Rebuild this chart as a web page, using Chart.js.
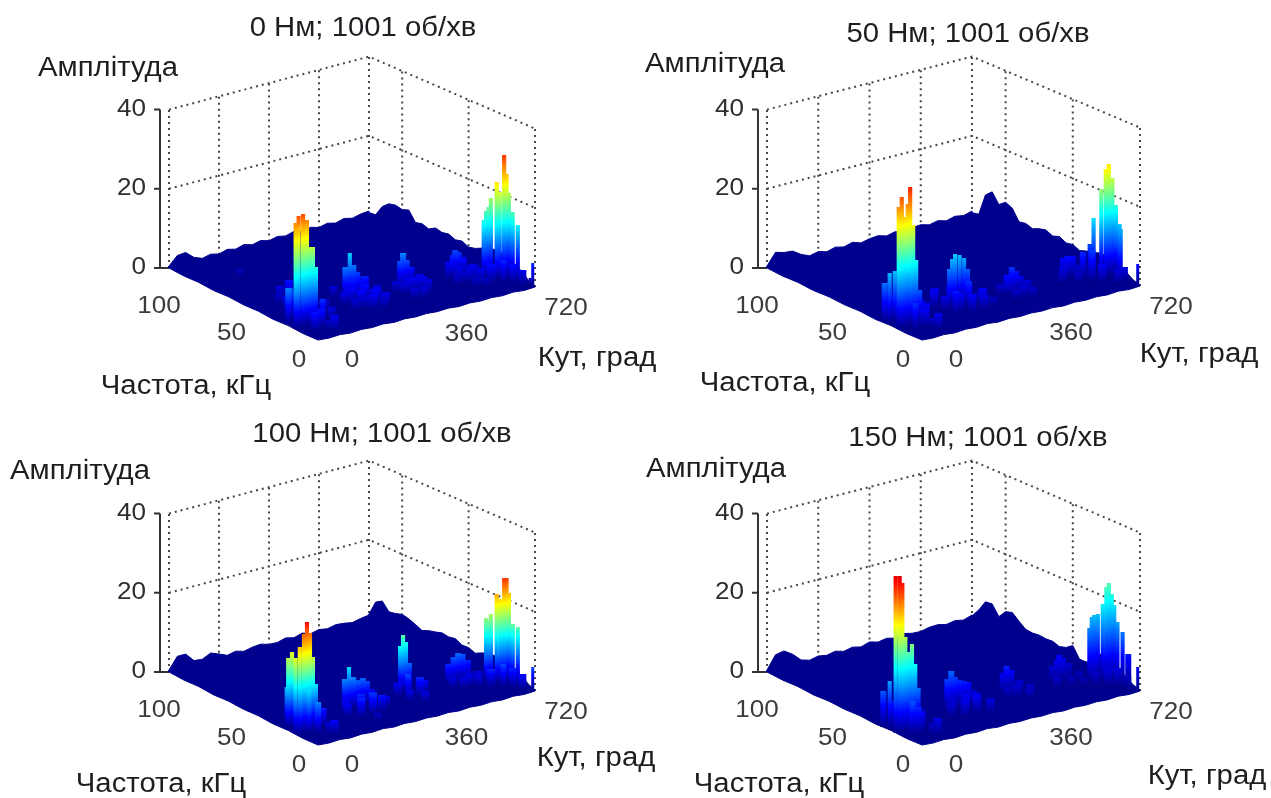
<!DOCTYPE html>
<html>
<head>
  <meta charset="utf-8">
  <script src="https://cdnjs.cloudflare.com/ajax/libs/Chart.js/4.4.1/chart.umd.min.js"></script>
  <style>
    * { margin: 0; padding: 0; }
    body { background: #fff; overflow: hidden; }
    canvas { display: block; filter: blur(0.7px); }
  </style>
</head>
<body>
  <canvas id="surfaces" width="1271" height="798"></canvas>

  <script>
    const titles = ['0 Нм; 1001 об/хв', '50 Нм; 1001 об/хв', '100 Нм; 1001 об/хв', '150 Нм; 1001 об/хв'];
    const ampName = 'Амплітуда';
    const angleName = 'Кут, град';
    const freqName = 'Частота, кГц';
    const ampTicks = [0, 20, 40];
    const freqTicks = [0, 50, 100];
    const angleTicks = [0, 360, 720];
    const gridAngles = [0, 180, 360, 540, 720];
    const gridFreqs = [0, 40, 80, 100];

    // height of the surface along its two far edges
    const edgeAngles = [0, 30, 60, 90, 120, 150, 180, 210, 240, 270, 300, 330, 360, 390, 420, 450, 480, 510, 540, 570, 600, 630, 660, 690, 720];
    const edgeFreqs = [100, 96, 92, 88, 84, 80, 76, 72, 68, 64, 60, 56, 52, 48, 44, 40, 36, 32, 28, 24, 20, 16, 12, 8, 4, 0];

    const backEdge0 = [0.5, 2.6, 2.8, 1.0, 0.2, 0.7, 0.2, 0.8, 0.3, 0.9, 0.3, 0.8, 0.2, 0.7, 0.3, 0.9, 0.3, 0.8, 0.2, 0.7, 0.2, 0.8, 0.3, 0.8, 1.0];
    const backEdge50 = [0.5, 3.4, 2.8, 2.6, 1.2, 0.3, 0.8, 0.2, 0.8, 0.3, 0.9, 0.2, 0.7, 0.9, 0.3, 0.8, 0.2, 0.7, 0.9, 0.3, 0.8, 0.2, 0.8, 0.4, 1.0];
    const backEdge100 = [0.5, 3.4, 3.4, 1.2, 1.0, 2.0, 1.2, 0.3, 0.8, 0.2, 0.7, 0.9, 0.3, 0.2, 0.8, 0.3, 0.9, 0.2, 0.7, 0.3, 0.8, 0.6, 0.2, 0.7, 1.0];
    const backEdge150 = [0.5, 3.8, 4.2, 2.8, 0.8, 0.2, 0.7, 0.3, 0.8, 0.2, 0.7, 0.2, 0.9, 0.3, 0.7, 0.2, 0.8, 0.3, 0.2, 0.7, 0.8, 0.3, 0.7, 0.3, 1.0];

    const rightEdge0 = [0.6, 0.8, 3.6, 5.0, 5.4, 5.0, 5.6, 3.2, 3.6, 3.0, 4.0, 3.6, 3.9, 3.2, 3.6, 2.8, 3.2, 4.0, 5.0, 5.0, 5.0, 4.5, 3.5, 2.5, 1.0, 0.3];
    const rightEdge50 = [0.6, 0.9, 6.5, 8.0, 5.5, 6.8, 6.0, 3.3, 3.6, 3.0, 3.7, 4.1, 3.3, 3.9, 3.0, 3.3, 2.5, 3.1, 3.5, 4.0, 4.0, 3.5, 2.5, 2.0, 0.8, 0.3];
    const rightEdge100 = [1.2, 5.0, 6.0, 4.0, 4.3, 4.8, 4.4, 3.7, 2.9, 3.6, 4.0, 4.5, 4.2, 4.5, 3.6, 3.7, 3.0, 3.8, 4.5, 4.5, 4.5, 4.0, 3.0, 2.5, 1.0, 0.3];
    const rightEdge150 = [0.8, 3.0, 5.8, 6.0, 3.5, 5.5, 6.0, 4.5, 3.2, 3.0, 3.2, 3.0, 3.1, 2.5, 3.0, 4.2, 1.5, 1.5, 3.0, 5.0, 5.0, 4.5, 3.0, 2.0, 0.8, 0.3];

    // small teeth along the two near edges, the same in every panel
    const frontAngles = [0, 36, 72, 108, 144, 180, 216, 252, 288, 324, 360, 396, 432, 468, 504, 540, 576, 612, 648, 684, 720];
    const frontAngleTeeth = [0, -0.2, 0, -0.25, 0, -0.2, 0.05, -0.25, 0, -0.2, 0, -0.2, 0, -0.25, 0, -0.2, 0, -0.2, 0.05, -0.2, 0];
    const frontFreqs = [0, 10, 20, 30, 40, 50, 60, 70, 80, 90, 100];
    const frontFreqTeeth = [0, -0.2, 0, -0.25, 0, -0.2, 0, -0.25, 0, -0.2, 0];

    // [angle, kHz, amplitude]
    const peaks0 = [
      [0,15,26.8],[10,15,28.5],[25,15,28.7],[38,15,26.9],[48,15,19.9],[58,15,19.7],[68,15,14.5],
      [120,43,5],[100,45,3.5],[80,42,2.5],[140,40,5],[160,35,4],[10,22,9],[30,25,8],[50,25,7],[80,25,6],[110,25,5],
      [90,15,6],[60,10,5],[120,15,3.5],[30,8,5],[80,5,4],[74,7,2.5],[118,75,2],[150,25,3],[70,35,3.5],
      [245,30,8.5],[260,30,11.7],[272,30,8.5],[285,30,6.5],[300,28,5.5],[240,25,4.5],[270,22,5],[300,20,4],[215,25,3.5],[320,24,3.5],[250,18,3],[230,35,3],[290,14,2.5],
      [230,25,4],[245,20,4.5],[260,15,4],[280,18,4.5],[300,15,3.5],[320,18,3],[215,18,3],[280,28,5],[255,28,5.5],
      [420,28,7],[430,28,9],[442,28,7],[455,28,5],[430,22,4],[400,22,3],[465,22,3.5],[440,16,2.5],
      [415,22,4],[440,20,4],[460,18,3.5],[400,15,3],[425,14,3],[470,25,3.5],[390,25,3],
      [570,25,4.5],[582,25,6],[590,25,7.2],[602,25,6.5],[615,25,5],[590,18,3],[620,16,3],[560,18,2.5],
      [575,20,4],[600,18,4],[620,20,4],[590,12,2.5],[610,10,2.5],[640,22,3],
      [656,18,17],[648,18,15],[664,18,18],[672,18,20],[675,15,24.5],[685,15,22],[700,15,31],[708,15,26],[716,15,21],[712,12,17],[718,10,14],
      [690,8,5],[670,10,6],[640,12,5],[620,15,4],[700,4,4],[715,2,2],[718,1,6]
    ];
    const peaks50 = [
      [0,15,30.9],[10,15,33.3],[20,15,28],[30,15,31],[38,15,35.3],[48,15,25.5],[58,15,16.5],[68,15,8.6],
      [6,22,12.8],[23,22,13],[5,25,9.8],[40,25,6],[70,25,5],[30,10,7],[60,10,5],[90,15,5],[110,22,4],[100,40,3],[140,35,3.5],[80,5,4.5],[74,7,3],
      [205,22,10],[215,22,12.5],[225,22,13.5],[240,22,13],[255,22,12],[265,22,9],[190,15,6],[230,12,5],[250,18,7],[280,15,5],[170,25,5],[200,30,4],[300,20,3],
      [210,16,5],[270,12,4],[180,20,4],[310,14,2.5],[240,28,4],
      [390,20,5.5],[404,20,7.3],[418,20,6],[430,20,4.5],[410,14,3.5],[385,14,3],[430,12,3],[375,22,3],[445,18,3.5],
      [590,22,5.5],[600,22,6],[615,22,5.5],[575,20,4],[625,20,3.5],[600,15,3],[560,18,3],[640,15,2.5],
      [656,18,8.5],[666,18,15],[630,18,7],[640,14,8],[650,10,5],[675,15,22.7],[690,15,27.4],[700,15,28.5],[712,15,24.8],[718,14,18],[708,10,14],[706,9,13],
      [700,6,4],[680,6,4],[718,1,5.4]
    ];
    const peaks100 = [
      [10,22,17.7],[23,22,18.9],[0,15,19.2],[14,15,21.6],[28,15,24.8],[38,15,27.5],[48,15,24.5],[58,15,18.3],[68,15,11.4],
      [15,24,10],[10,14,12],[30,12,11],[50,10,8],[60,12,7],[40,28,6],[80,20,5],[110,22,4],[120,40,3],[80,5,4],[74,7,3],[90,15,5],
      [217,25,7.9],[231,25,10.7],[245,25,8],[261,25,6.8],[278,25,7],[292,25,6],[305,25,3.7],[220,15,5],[260,15,5.5],[290,15,4.5],[190,18,3.5],[320,18,3],[240,8,2],
      [235,18,5],[275,18,5],[205,22,3.5],
      [420,28,12],[430,28,14.4],[440,28,12.5],[450,28,7],[415,22,6],[445,20,5],[470,22,3.5],[400,18,3],[430,14,3],[395,25,3.5],
      [570,25,5],[585,25,6.5],[600,25,7.3],[615,25,6.8],[630,25,5],[600,18,3.5],[620,16,3],[580,18,3],[555,20,3],[640,20,3],
      [656,18,16.4],[664,18,15.5],[672,18,17],[675,15,22.6],[688,15,21],[700,15,26.3],[708,15,26],[716,15,22],[712,12,15],[718,10,14.5],
      [690,8,5],[670,10,6],[640,12,5],[700,4,4],[718,1,6]
    ];
    const peaks150 = [
      [0,17,39.5],[3,15,39.8],[12,15,38],[22,15,24],[33,15,20],[44,15,22],[55,15,16.7],[66,15,10.4],
      [6,22,12],[0,25,9],[20,10,9],[40,10,7],[60,12,5],[30,25,6],[70,22,4],[100,20,3.5],[120,35,3],[78,5,4.5],[72,7,3],
      [215,25,8],[228,25,9.9],[240,25,8],[255,25,7],[270,25,6.5],[285,25,6],[300,25,3.5],[220,15,4.5],[260,15,5],[290,12,4],[190,18,3.5],
      [240,18,5],[205,20,4],[275,18,4.5],[310,16,3],
      [420,28,5],[430,28,6.8],[442,28,5.5],[450,24,3.5],[420,20,3.5],[440,16,3],[400,22,3],[465,20,3],
      [570,25,4.5],[582,25,6],[590,25,7],[602,25,6],[618,25,4.5],[590,18,3],[615,15,2.5],[555,20,3],[630,20,3],
      [652,18,14],[660,18,16.5],[668,18,17],[680,18,17],[680,15,20],[692,15,24],[700,15,25],[710,15,22],[718,15,19],[712,12,15.5],[718,10,13],[720,7,8],
      [690,8,5],[670,10,5],[640,12,4],[700,4,3.5],[718,1,6]
    ];

    const backEdges = [backEdge0, backEdge50, backEdge100, backEdge150];
    const rightEdges = [rightEdge0, rightEdge50, rightEdge100, rightEdge150];
    const peakSets = [peaks0, peaks50, peaks100, peaks150];

    // colour ceiling of the jet map, left part / right peak of each panel
    const colourMaxLeft = [36, 42, 32, 44];
    const colourMaxRight = [38, 44, 32, 55];

    // page layout of the four 3D boxes, in pixels
    const cornerFront = [[318, 340], [922, 340], [318, 745], [922, 745]];
    const cornerRight = [[535, 287], [1140, 286], [535, 691], [1140, 691]];
    const cornerLeft = [[169, 268], [767, 268], [169, 672], [767, 672]];
    const cornerBack = [[369, 215], [972, 215], [369, 619], [972, 619]];
    const ampPixels = 3.96;

    const titlePos = [[363, 27], [968, 33], [382, 433], [978, 437]];
    const ampNamePos = [[108, 67], [715, 63], [80, 470], [716, 468]];
    const angleNamePos = [[597, 357], [1199, 353], [596, 757], [1207, 775]];
    const freqNamePos = [[186, 385], [785, 382], [161, 783], [779, 783]];
    const freqTickOffsets = [[-19, 19], [-12, 28], [-10, 37]];
    const angleTickOffsets = [[34, 19], [40, 19], [31, 20]];

    function project(p, angle, freq, amp) {
      const a = angle / 720, f = freq / 100;
      const mix = k => (1 - a) * (1 - f) * cornerFront[p][k] + a * (1 - f) * cornerRight[p][k]
        + (1 - a) * f * cornerLeft[p][k] + a * f * cornerBack[p][k];
      return { x: mix(0), y: mix(1) - amp * ampPixels };
    }

    function jet(v) {
      v = Math.min(1, Math.max(0, v));
      const ramp = t => Math.round(255 * Math.min(1, Math.max(0, 1.5 - Math.abs(4 * t))));
      return `rgb(${ramp(v - 0.75)},${ramp(v - 0.5)},${ramp(v - 0.25)})`;
    }

    function stemWidth(freq, amp) {
      if (freq <= 3) return 3;
      if (amp <= 5.5) return 8;
      if (amp < 10) return 6;
      return 4.2;
    }

    const gap = { x: null, y: null };
    const datasets = [];

    titles.forEach((_, p) => {
      // dotted walls
      const wall = [];
      gridAngles.forEach(angle => {
        wall.push(project(p, angle, 100, 0), project(p, angle, 100, 40), gap);
      });
      gridFreqs.forEach(freq => {
        wall.push(project(p, 720, freq, 0), project(p, 720, freq, 40), gap);
      });
      ampTicks.slice(1).forEach(amp => {
        wall.push(project(p, 0, 100, amp), project(p, 720, 100, amp), project(p, 720, 0, amp), gap);
      });
      datasets.push({ data: wall, order: 4, borderColor: '#474747', borderWidth: 2, borderDash: [2, 4], showLine: true, pointRadius: 0 });

      // solid amplitude axis
      const axis = [];
      const axisShift = -9;
      const axisAt = amp => {
        const q = project(p, 0, 100, amp);
        return { x: q.x + axisShift, y: q.y };
      };
      axis.push(axisAt(0), axisAt(40), gap);
      ampTicks.forEach(amp => {
        const q = axisAt(amp);
        axis.push({ x: q.x - 6, y: q.y }, amp === 0 ? project(p, 0, 100, 0) : q, gap);
      });
      datasets.push({ data: axis, order: 3, borderColor: '#333', borderWidth: 2, showLine: true, pointRadius: 0 });

      // floor of the surface with its jagged edges
      const floor = [];
      frontAngles.forEach((angle, i) => floor.push(project(p, angle, 0, frontAngleTeeth[i])));
      edgeFreqs.slice().reverse().forEach((freq, i) => {
        floor.push(project(p, 720, freq, rightEdges[p][edgeFreqs.length - 1 - i]));
      });
      edgeAngles.slice().reverse().forEach((angle, i) => {
        floor.push(project(p, angle, 100, backEdges[p][edgeAngles.length - 1 - i]));
      });
      frontFreqs.slice().reverse().forEach((freq, i) => {
        floor.push(project(p, 0, freq, frontFreqTeeth[frontFreqs.length - 1 - i]));
      });
      datasets.push({ data: floor, order: 2, fill: 'shape', backgroundColor: '#00008f', borderColor: '#00008f', borderWidth: 1, showLine: true, pointRadius: 0 });

      // peaks, far ones first, each a column coloured by height
      // column joints sit on whole pixels so no seams show between colours
      const sorted = peakSets[p].slice().sort((m, n) => project(p, m[0], m[1], 0).y - project(p, n[0], n[1], 0).y);
      const points = [];
      sorted.forEach(([angle, freq, amp]) => {
        const ceil = angle >= 560 ? colourMaxRight[p] : colourMaxLeft[p];
        const width = stemWidth(freq, amp);
        for (let z = 0; z < amp; z += 0.5) {
          const q = project(p, angle, freq, z);
          points.push({ x: q.x, y: Math.round(q.y), shade: jet(z / ceil), width });
        }
        const top = project(p, angle, freq, amp);
        points.push({ x: top.x, y: Math.round(top.y), shade: jet(amp / ceil), width }, gap);
      });
      datasets.push({
        data: points, order: 1, showLine: true, pointRadius: 0, borderWidth: 4, borderCapStyle: 'butt', spanGaps: false,
        borderColor: '#00008f',
        segment: {
          borderColor: ctx => points[ctx.p1DataIndex].shade,
          borderWidth: ctx => points[ctx.p1DataIndex].width
        }
      });
    });

    function stretchedText(ctx, text, x, y, size, stretch, color, align) {
      ctx.save();
      ctx.translate(x, y + 2);
      ctx.scale(stretch, 1);
      ctx.font = size + 'px "Liberation Sans", Arial, sans-serif';
      ctx.fillStyle = color;
      ctx.textAlign = align || 'center';
      ctx.textBaseline = 'middle';
      ctx.fillText(text, 0, 0);
      ctx.restore();
    }

    const panelText = {
      id: 'panelText',
      afterDatasetsDraw(chart) {
        const ctx = chart.ctx;
        const px = v => chart.scales.x.getPixelForValue(v);
        const py = v => chart.scales.y.getPixelForValue(v);
        titles.forEach((title, p) => {
          stretchedText(ctx, title, px(titlePos[p][0]), py(titlePos[p][1]), 27, 1.085, '#1e1e22');
          stretchedText(ctx, ampName, px(ampNamePos[p][0]), py(ampNamePos[p][1]), 27, 1.085, '#1e1e22');
          stretchedText(ctx, angleName, px(angleNamePos[p][0]), py(angleNamePos[p][1]), 27, 1.085, '#1e1e22');
          stretchedText(ctx, freqName, px(freqNamePos[p][0]), py(freqNamePos[p][1]), 27, 1.085, '#1e1e22');
          ampTicks.forEach(amp => {
            const q = project(p, 0, 100, amp);
            stretchedText(ctx, String(amp), px(q.x - 23), py(q.y - 2), 23.5, 1.11, '#2e2e2e', 'right');
          });
          freqTicks.forEach((freq, i) => {
            const q = project(p, 0, freq, 0);
            stretchedText(ctx, String(freq), px(q.x + freqTickOffsets[i][0]), py(q.y + freqTickOffsets[i][1]), 23.5, 1.11, '#3c3c3c');
          });
          angleTicks.forEach((angle, i) => {
            const q = project(p, angle, 0, 0);
            stretchedText(ctx, String(angle), px(q.x + angleTickOffsets[i][0]), py(q.y + angleTickOffsets[i][1]), 23.5, 1.11, '#3c3c3c');
          });
        });
      }
    };

    new Chart(document.getElementById('surfaces'), {
      type: 'scatter',
      data: { datasets },
      options: {
        responsive: false,
        animation: false,
        events: [],
        layout: { padding: 0 },
        elements: { line: { tension: 0 } },
        plugins: { legend: { display: false }, tooltip: { enabled: false } },
        scales: {
          x: { type: 'linear', display: false, min: 0, max: 1271 },
          y: { type: 'linear', display: false, min: 0, max: 798, reverse: true }
        }
      },
      plugins: [panelText]
    });
  </script>
</body>
</html>
